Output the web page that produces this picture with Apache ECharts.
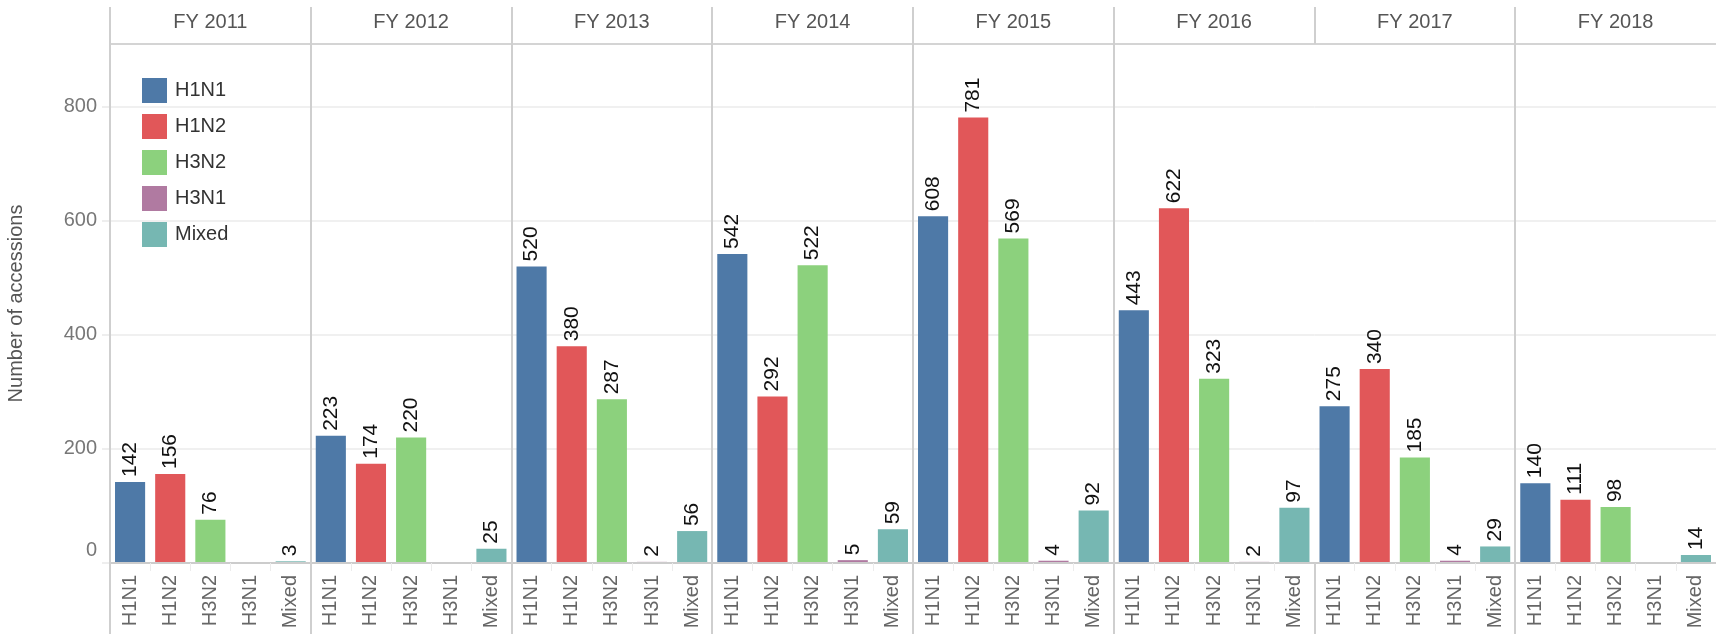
<!DOCTYPE html>
<html>
<head>
<meta charset="utf-8">
<title>Accessions by subtype and fiscal year</title>
<script src="https://cdn.jsdelivr.net/npm/echarts@6/dist/echarts.min.js"></script>
<style>
  html, body { margin: 0; padding: 0; background: #fff; }
  #chart { width: 1716px; height: 634px; }
</style>
</head>
<body>
<div id="chart"></div>
<script>
// facets (fiscal years) and subtypes
const years = ['FY 2011', 'FY 2012', 'FY 2013', 'FY 2014', 'FY 2015', 'FY 2016', 'FY 2017', 'FY 2018'];
const subtypes = ['H1N1', 'H1N2', 'H3N2', 'H3N1', 'Mixed'];

// number of accessions per subtype, one list per year
const fy2011 = [142, 156, 76, 0, 3];
const fy2012 = [223, 174, 220, 0, 25];
const fy2013 = [520, 380, 287, 2, 56];
const fy2014 = [542, 292, 522, 5, 59];
const fy2015 = [608, 781, 569, 4, 92];
const fy2016 = [443, 622, 323, 2, 97];
const fy2017 = [275, 340, 185, 4, 29];
const fy2018 = [140, 111, 98, 0, 14];
const counts = [fy2011, fy2012, fy2013, fy2014, fy2015, fy2016, fy2017, fy2018];

const yTicks = [0, 200, 400, 600, 800];

const colors = ['#4e79a7', '#e15759', '#8cd17d', '#b07aa1', '#76b7b2'];
const FONT = '"Liberation Sans", Arial, sans-serif';

// layout
const LEFT = 110;
const PANEL_W = (1716 - LEFT) / years.length;
const HEAD_TOP = 7;
const GRID_TOP = 44;
const BASE_Y = 563;
const Y_MAX = 910;

const chart = echarts.init(document.getElementById('chart'));

const grid = [];
const xAxis = [];
const yAxis = [];
const series = [];

years.forEach((year, i) => {
  grid.push({
    left: LEFT + i * PANEL_W,
    width: PANEL_W,
    top: GRID_TOP,
    bottom: 634 - BASE_Y,
  });
  // subtype axis at the bottom
  xAxis.push({
    type: 'category',
    gridIndex: i,
    data: subtypes,
    axisLine: { lineStyle: { color: '#cccccc', width: 2 } },
    axisTick: { show: true, length: 8, lineStyle: { color: '#ececec', width: 1 } },
    axisLabel: { rotate: 90, margin: 12, color: '#666', fontSize: 20, fontFamily: FONT },
    z: 3,
  });
  // facet header
  xAxis.push({
    type: 'category',
    gridIndex: i,
    position: 'top',
    data: [year],
    axisLine: { lineStyle: { color: '#d4d4d4', width: 2 } },
    axisTick: { show: false },
    axisLabel: { margin: 12, color: '#555', fontSize: 20, fontFamily: FONT },
    z: 3,
  });
  const first = i === 0;
  yAxis.push({
    type: 'value',
    gridIndex: i,
    min: 0,
    max: Y_MAX,
    interval: 200,
    name: first ? 'Number of accessions' : '',
    nameLocation: 'middle',
    nameGap: 84,
    nameTextStyle: { color: '#555', fontSize: 20, fontFamily: FONT },
    axisLine: { show: false },
    axisTick: { show: first, length: 8, lineStyle: { color: '#eeeeee', width: 2 } },
    splitLine: { lineStyle: { color: '#f0f0f0', width: 2 } },
    axisLabel: {
      show: first,
      showMaxLabel: false,
      margin: 13,
      color: '#777',
      fontSize: 20,
      fontFamily: FONT,
      formatter: (v) => {
        if (!yTicks.includes(v)) return '';
        return v === 0 ? '{z|0}' : String(v);
      },
      rich: { z: { color: '#777', fontSize: 20, fontFamily: FONT, padding: [0, 0, 26, 0] } },
    },
  });

  subtypes.forEach((name, j) => {
    series.push({
      name,
      type: 'bar',
      xAxisIndex: i * 2,
      yAxisIndex: i,
      stack: 'p' + i,
      barWidth: '75%',
      data: subtypes.map((s, k) => (k === j ? counts[i][j] : '-')),
      itemStyle: { color: colors[j] },
      label: {
        show: true,
        position: 'top',
        rotate: 90,
        align: 'left',
        verticalAlign: 'middle',
        distance: 5,
        color: '#111',
        fontSize: 21,
        fontFamily: FONT,
        formatter: (p) => (p.value ? String(p.value) : ''),
      },
    });
  });
});

// panel separators
const graphic = [];
for (let i = 0; i < years.length; i++) {
  const x = Math.round(LEFT + i * PANEL_W);
  const parts = i === 6 ? [[HEAD_TOP, GRID_TOP], [BASE_Y, 634]] : [[HEAD_TOP, 634]];
  parts.forEach(([y1, y2]) => {
    graphic.push({
      type: 'line',
      z: 10,
      shape: { x1: x, y1, x2: x, y2 },
      style: { stroke: '#cfcfcf', lineWidth: 2 },
    });
  });
}

chart.setOption({
  animation: false,
  textStyle: { fontFamily: FONT },
  grid,
  xAxis,
  yAxis,
  series,
  graphic,
  legend: {
    data: subtypes,
    orient: 'vertical',
    left: 137,
    top: 73,
    itemWidth: 25,
    itemHeight: 25,
    itemGap: 11,
    icon: 'rect',
    textStyle: { color: '#333', fontSize: 20, fontFamily: FONT, padding: [0, 0, 0, 3] },
  },
});
</script>
</body>
</html>
